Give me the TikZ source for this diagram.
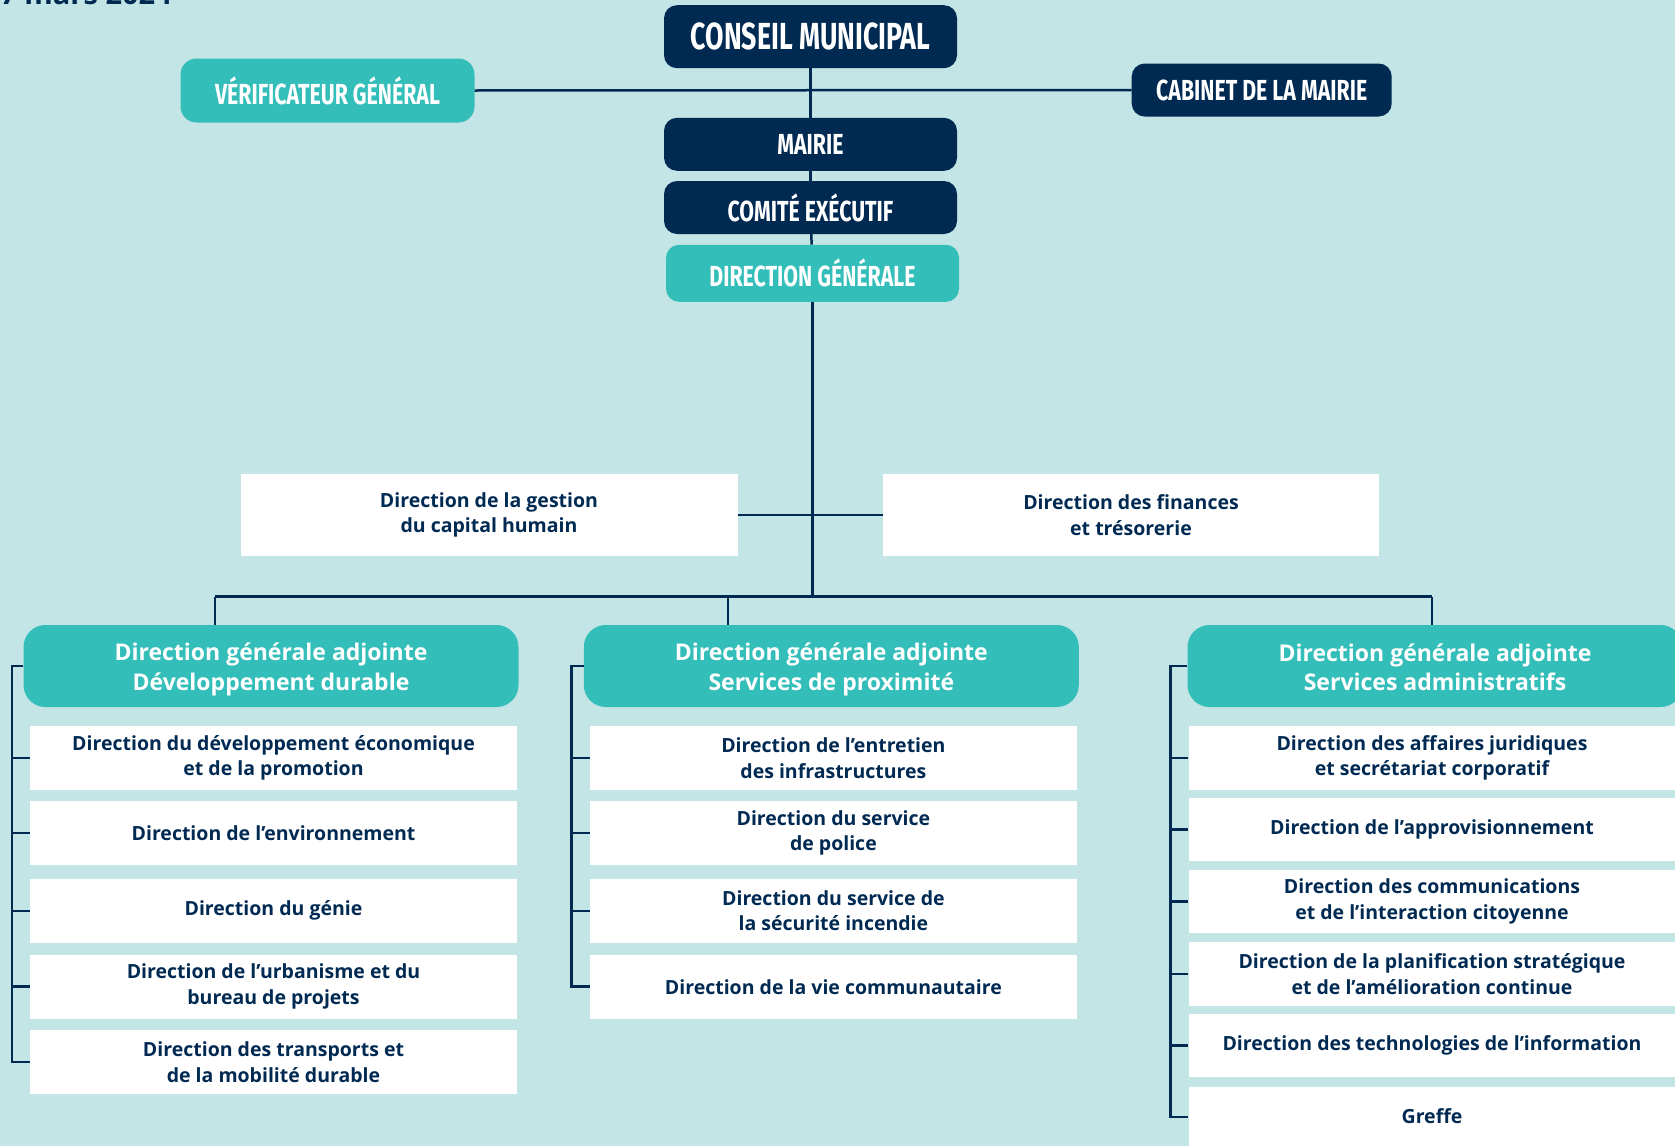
\documentclass[tikz,border=0pt]{standalone}
\usepackage{fontspec}
\setmainfont{Open Sans}
\newfontfamily\headfont[FakeStretch=0.735]{Fira Sans}
\newfontfamily\conseilfont[FakeStretch=0.71]{Fira Sans}
\usetikzlibrary{calc,positioning}

\definecolor{bgteal}{HTML}{C3E5E5}
\definecolor{navy}{HTML}{012A53}
\definecolor{teal}{HTML}{34BEB9}

% title of an adjoint direction, with struts so that all sit alike in their box
\newcommand{\adjointe}[1]{\rule{0pt}{25pt}Direction générale adjointe\\#1\rule[-5.5pt]{0pt}{5.5pt}}

\begin{document}
\begin{tikzpicture}[
	%	style def
	x=1pt, y=-1pt,
	org line/.style={draw=navy, line width=2.5pt},
	head box/.style={rounded corners=13pt, text=white, inner sep=0pt, minimum width=293pt, minimum height=53pt, font=\headfont\bfseries\fontsize{29}{30}\selectfont},
	dark head/.style={head box, fill=navy},
	light head/.style={head box, fill=teal},
	adjoint box/.style={fill=teal, rounded corners=22pt, text=white, align=center, inner sep=0pt, minimum width=495pt, minimum height=82pt, font=\bfseries\fontsize{23}{29.5}\selectfont},
	unit box/.style={fill=white, text=navy, align=center, inner sep=0pt, minimum width=487pt, minimum height=64pt, font=\bfseries\fontsize{19.5}{25.7}\selectfont}
	]

	% background
	\fill[bgteal] (0,0) rectangle (1675,1146);
	\useasboundingbox (0,0) rectangle (1675,1146);
	\clip (0,0) rectangle (1675,1146);

	% date, cut at the top
	\node[anchor=base east, inner sep=0pt, text=navy, font=\bfseries\fontsize{29}{34}\selectfont] (date) at (172,4.5) {27 mars 2024};

	% top of the chart
	\node[dark head, minimum height=63pt, font=\conseilfont\bfseries\fontsize{37.7}{40}\selectfont] (conseil) at (810.5,36.7) {CONSEIL MUNICIPAL};
	\node[light head, minimum width=294pt, minimum height=64pt, rounded corners=16pt] (verif) at (327.5,90.5) {VÉRIFICATEUR GÉNÉRAL};
	\node[dark head, minimum width=260pt] (cabinet) at (1261.7,90) {CABINET DE LA MAIRIE};
	\node[dark head] (mairie) at (810.5,144.3) {MAIRIE};
	\node[dark head] (comite) at (810.5,207.5) {COMITÉ EXÉCUTIF};
	\node[light head, minimum height=57pt] (dg) at (812.5,273.3) {DIRECTION GÉNÉRALE};

	\draw[org line] (verif.east) -- (cabinet.west);
	\draw[org line] (conseil) -- (mairie);
	\draw[org line] (mairie) -- (comite);
	\draw[org line] (comite) -- (dg);

	% staff directions
	\node[unit box, minimum width=497pt, minimum height=82pt] (rh) at (489,514.8) {Direction de la gestion\\du capital humain};
	\node[unit box, minimum width=496pt, minimum height=82pt] (finances) at (1131,514.8) {Direction des finances\\et trésorerie};
	\draw[org line] (rh) -- (finances);

	% bus towards the three adjoint directions
	\coordinate (hub) at (dg.south |- 0,596.7);
	\coordinate (bus1) at (215,596.7);
	\coordinate (bus2) at (728.2,596.7);
	\coordinate (bus3) at (1432,596.7);
	\draw[org line] (dg) -- (hub);
	\draw[org line] (bus1) -- (bus3);

	\node[adjoint box] (dga1) at (271,666) {\adjointe{Développement durable}};
	\node[adjoint box] (dga2) at (831.3,666) {\adjointe{Services de proximité}};
	\node[adjoint box] (dga3) at (1435,666) {\adjointe{Services administratifs}};
	\foreach \i in {1,2,3}
		\draw[org line] (bus\i) -- (bus\i |- dga\i.north);

	% column 1
	\node[unit box] (eco) at (273.5,757.9) {Direction du développement économique\\et de la promotion};
	\node[unit box] (env) at (273.5,832.8) {Direction de l’environnement};
	\node[unit box] (genie) at (273.5,910.8) {Direction du génie};
	\node[unit box] (urba) at (273.5,986.7) {Direction de l’urbanisme et du\\bureau de projets};
	\node[unit box] (transp) at (273.5,1062) {Direction des transports et\\de la mobilité durable};
	\draw[org line] (dga1.west) -| ($(transp.west)+(-18,0)$) -- (transp.west);
	\foreach \n in {eco,env,genie,urba}
		\draw[org line] (\n.west) -- ++(-18,0);

	% column 2
	\node[unit box] (entretien) at (833.4,757.9) {Direction de l’entretien\\des infrastructures};
	\node[unit box] (police) at (833.4,832.8) {Direction du service\\de police};
	\node[unit box] (incendie) at (833.4,910.8) {Direction du service de\\la sécurité incendie};
	\node[unit box] (vie) at (833.4,986.7) {Direction de la vie communautaire};
	\draw[org line] (dga2.west) -| ($(vie.west)+(-18,0)$) -- (vie.west);
	\foreach \n in {entretien,police,incendie}
		\draw[org line] (\n.west) -- ++(-18,0);

	% column 3
	\node[unit box, minimum height=63.5pt] (juridique) at (1432,757.9) {Direction des affaires juridiques\\et secrétariat corporatif};
	\node[unit box, minimum height=63.5pt] (appro) at (1432,829.5) {Direction de l’approvisionnement};
	\node[unit box, minimum height=63.5pt] (comm) at (1432,901.5) {Direction des communications\\et de l’interaction citoyenne};
	\node[unit box, minimum height=63.5pt] (planif) at (1432,973.8) {Direction de la planification stratégique\\et de l’amélioration continue};
	\node[unit box, minimum height=63.5pt] (ti) at (1432,1045.3) {Direction des technologies de l’information};
	\node[unit box, anchor=north, minimum height=0pt, text height=37.3pt, text depth=32pt] (greffe) at (1432,1086.4) {Greffe};
	\draw[org line] (dga3.west) -| ($(greffe.west |- 0,1117)+(-18,0)$) -- (greffe.west |- 0,1117);
	\foreach \n in {juridique,appro,comm,planif,ti}
		\draw[org line] (\n.west) -- ++(-18,0);
\end{tikzpicture}
\end{document}
